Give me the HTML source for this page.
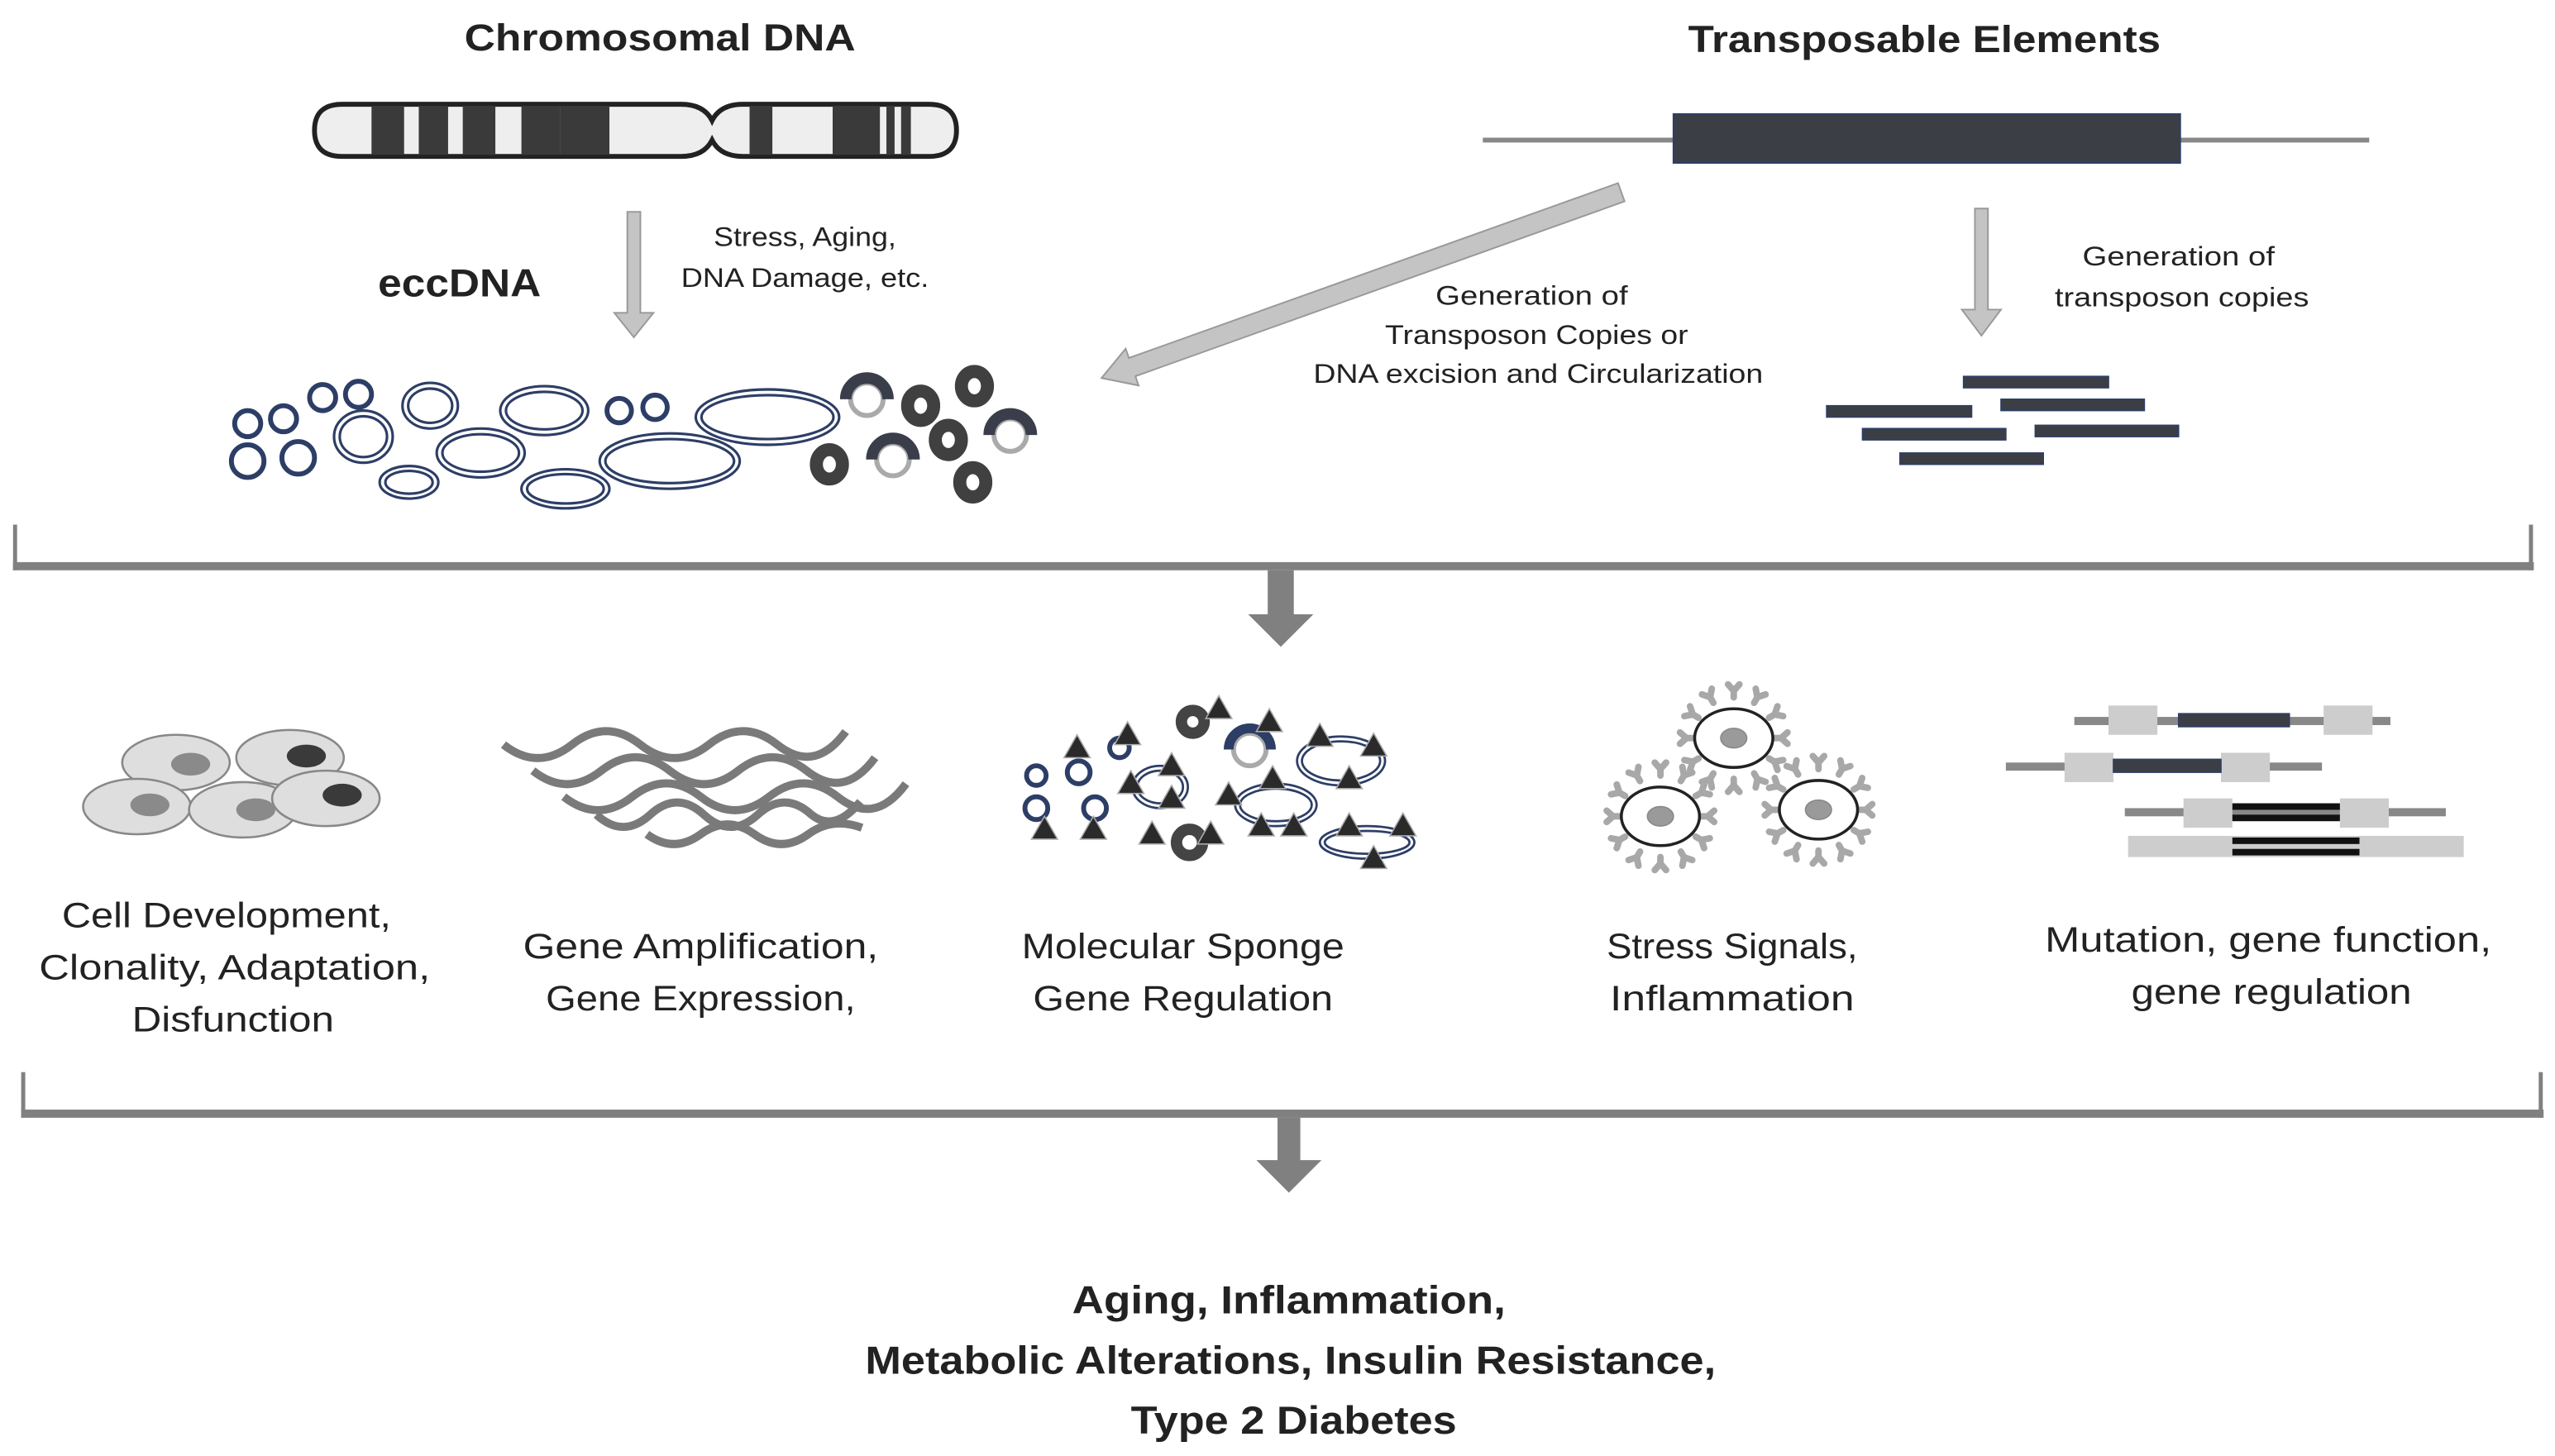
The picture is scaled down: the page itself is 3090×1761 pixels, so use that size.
<!DOCTYPE html>
<html><head><meta charset="utf-8"><style>
html,body{margin:0;padding:0;background:#fff;}
svg{display:block;}
text{font-family:"Liberation Sans",sans-serif;fill:#222;}
.b{font-weight:bold;}
</style></head><body>
<svg width="3090" height="1761" viewBox="0 0 1568 893.6" preserveAspectRatio="none" xmlns="http://www.w3.org/2000/svg">
<defs>
<g id="tri"><polygon points="0,-8 8,6 -8,6" fill="#2a2a2a" stroke="#aaa" stroke-width="0.8"/></g>
<g id="spk"><path d="M0,0 L0,-4 M0,-4 L-3.5,-8 M0,-4 L3.5,-8" stroke="#a8a8a8" stroke-width="4" stroke-linecap="round" fill="none"/></g>
<g id="cell3">
 <g transform="rotate(0) translate(0,-25)"><use href="#spk"/></g>
 <g transform="rotate(30) translate(0,-25)"><use href="#spk"/></g>
 <g transform="rotate(60) translate(0,-25)"><use href="#spk"/></g>
 <g transform="rotate(90) translate(0,-25)"><use href="#spk"/></g>
 <g transform="rotate(120) translate(0,-25)"><use href="#spk"/></g>
 <g transform="rotate(150) translate(0,-25)"><use href="#spk"/></g>
 <g transform="rotate(180) translate(0,-25)"><use href="#spk"/></g>
 <g transform="rotate(210) translate(0,-25)"><use href="#spk"/></g>
 <g transform="rotate(240) translate(0,-25)"><use href="#spk"/></g>
 <g transform="rotate(270) translate(0,-25)"><use href="#spk"/></g>
 <g transform="rotate(300) translate(0,-25)"><use href="#spk"/></g>
 <g transform="rotate(330) translate(0,-25)"><use href="#spk"/></g>
 <ellipse cx="0" cy="0" rx="24" ry="18" fill="#fff" stroke="#222" stroke-width="1.8"/>
 <ellipse cx="0" cy="0" rx="8" ry="6" fill="#9a9a9a" stroke="#888" stroke-width="0.8"/>
</g>
</defs>

<text class="b" x="405" y="31" font-size="23" text-anchor="middle" textLength="240" lengthAdjust="spacingAndGlyphs">Chromosomal DNA</text>
<text class="b" x="1181" y="32" font-size="23" text-anchor="middle" textLength="290" lengthAdjust="spacingAndGlyphs">Transposable Elements</text>

<g stroke="#222" stroke-width="3">
 <path d="M210,64 L418,64 Q432,64 437,74 Q442,64 456,64 L570,64 Q587,64 587,80 Q587,96 570,96 L456,96 Q442,96 437,86 Q432,96 418,96 L210,96 Q193,96 193,80 Q193,64 210,64 Z" fill="#eee"/>
</g>
<g fill="#3a3a3a">
 <rect x="228" y="65" width="20" height="30"/><rect x="257" y="65" width="18" height="30"/><rect x="284" y="65" width="20" height="30"/>
 <rect x="320" y="65" width="24" height="30"/><rect x="344" y="65" width="30" height="30"/>
 <rect x="460" y="65" width="14" height="30"/><rect x="511" y="65" width="29" height="30"/><rect x="544" y="65" width="5" height="30"/><rect x="553" y="65" width="6" height="30"/>
</g>

<polygon points="385,130 393,130 393,192 401,192 389,207 377,192 385,192" fill="#c4c4c4" stroke="#999" stroke-width="1"/>
<text class="b" x="282" y="182" font-size="24" text-anchor="middle" textLength="100" lengthAdjust="spacingAndGlyphs">eccDNA</text>
<text x="494" y="151" font-size="16.5" text-anchor="middle" textLength="112" lengthAdjust="spacingAndGlyphs">Stress, Aging,</text>
<text x="494" y="176" font-size="16.5" text-anchor="middle" textLength="152" lengthAdjust="spacingAndGlyphs">DNA Damage, etc.</text>

<g fill="none" stroke="#2d3e66">
 <g stroke-width="3">
  <circle cx="152" cy="260" r="8"/><circle cx="174" cy="257" r="8"/><circle cx="198" cy="244" r="8"/><circle cx="220" cy="242" r="8"/>
  <circle cx="152" cy="283" r="10"/><circle cx="183" cy="281" r="10"/><circle cx="380" cy="252" r="7.5"/><circle cx="402" cy="250" r="7.5"/>
 </g>
 <g stroke-width="1.6">
  <ellipse cx="223" cy="268" rx="18" ry="16"/><ellipse cx="223" cy="268" rx="14.5" ry="12.5"/>
  <ellipse cx="264" cy="249" rx="17" ry="14"/><ellipse cx="264" cy="249" rx="13.5" ry="10.5"/>
  <ellipse cx="251" cy="296" rx="18" ry="10"/><ellipse cx="251" cy="296" rx="14.5" ry="7"/>
  <ellipse cx="295" cy="278" rx="27" ry="15"/><ellipse cx="295" cy="278" rx="23.5" ry="11.5"/>
  <ellipse cx="334" cy="252" rx="27" ry="15"/><ellipse cx="334" cy="252" rx="23.5" ry="11.5"/>
  <ellipse cx="347" cy="300" rx="27" ry="12"/><ellipse cx="347" cy="300" rx="23.5" ry="9"/>
  <ellipse cx="411" cy="283" rx="43" ry="17"/><ellipse cx="411" cy="283" rx="39.5" ry="13.5"/>
  <ellipse cx="471" cy="256" rx="44" ry="17"/><ellipse cx="471" cy="256" rx="40.5" ry="13.5"/>
 </g>
</g>
<g fill="none" stroke="#404040" stroke-width="8">
 <ellipse cx="565" cy="249" rx="8" ry="9"/><ellipse cx="598" cy="237" rx="8" ry="9"/><ellipse cx="582" cy="270" rx="8" ry="9"/>
 <ellipse cx="509" cy="285" rx="8" ry="9"/><ellipse cx="597" cy="296" rx="8" ry="9"/>
</g>
<g fill="none">
 <circle cx="532" cy="245" r="10" stroke="#aaa" stroke-width="3"/><path d="M519,245 A13,13 0 0 1 545,245" stroke="#3a3e4a" stroke-width="7"/>
 <circle cx="548" cy="282" r="10" stroke="#aaa" stroke-width="3"/><path d="M535,282 A13,13 0 0 1 561,282" stroke="#3a3e4a" stroke-width="7"/>
 <circle cx="620" cy="267" r="10" stroke="#aaa" stroke-width="3"/><path d="M607,267 A13,13 0 0 1 633,267" stroke="#3a3e4a" stroke-width="7"/>
</g>

<line x1="910" y1="86" x2="1454" y2="86" stroke="#888" stroke-width="3"/>
<rect x="1027" y="70" width="311" height="30" fill="#3c3e45" stroke="#2d3e66" stroke-width="1"/>
<polygon points="997,123.6 993,112.4 692.8,219.7 690.8,214 676,232 698.8,236.6 696.8,230.9" fill="#c4c4c4" stroke="#999" stroke-width="1"/>
<text x="940" y="187" font-size="16.5" text-anchor="middle" textLength="118" lengthAdjust="spacingAndGlyphs">Generation of</text>
<text x="943" y="211" font-size="16.5" text-anchor="middle" textLength="186" lengthAdjust="spacingAndGlyphs">Transposon Copies or</text>
<text x="944" y="235" font-size="16.5" text-anchor="middle" textLength="276" lengthAdjust="spacingAndGlyphs">DNA excision and Circularization</text>
<polygon points="1212,128 1220,128 1220,190 1228,190 1216,206 1204,190 1212,190" fill="#c4c4c4" stroke="#999" stroke-width="1"/>
<text x="1337" y="163" font-size="16.5" text-anchor="middle" textLength="118" lengthAdjust="spacingAndGlyphs">Generation of</text>
<text x="1339" y="188" font-size="16.5" text-anchor="middle" textLength="156" lengthAdjust="spacingAndGlyphs">transposon copies</text>
<g fill="#3c3e45" stroke="#2d3e66" stroke-width="0.8">
 <rect x="1205" y="231" width="89" height="7"/><rect x="1228" y="245" width="88" height="7"/><rect x="1121" y="249" width="89" height="7"/>
 <rect x="1143" y="263" width="88" height="7"/><rect x="1249" y="261" width="88" height="7"/><rect x="1166" y="278" width="88" height="7"/>
</g>

<g fill="#808080">
 <rect x="8" y="345" width="1547" height="5"/><rect x="8" y="322" width="2.5" height="28"/><rect x="1552" y="322" width="2.5" height="28"/>
 <rect x="778" y="350" width="16" height="28"/><polygon points="766,377 806,377 786,397"/>
</g>

<g stroke="#888" stroke-width="1.3" fill="#dedede">
 <ellipse cx="108" cy="468" rx="33" ry="17"/><ellipse cx="178" cy="465" rx="33" ry="17"/>
 <ellipse cx="84" cy="495" rx="33" ry="17"/><ellipse cx="149" cy="497" rx="33" ry="17"/><ellipse cx="200" cy="490" rx="33" ry="17"/>
</g>
<g stroke="none">
 <ellipse cx="117" cy="469" rx="12" ry="7" fill="#8a8a8a"/><ellipse cx="188" cy="464" rx="12" ry="7" fill="#3a3a3a"/>
 <ellipse cx="92" cy="494" rx="12" ry="7" fill="#8a8a8a"/><ellipse cx="157" cy="497" rx="12" ry="7" fill="#8a8a8a"/><ellipse cx="210" cy="488" rx="12" ry="7" fill="#3a3a3a"/>
</g>

<g fill="none" stroke="#7a7a7a" stroke-width="5">
 <path d="M309,457 c14,11 28,11 42,0 c14,-11 28,-11 42,0 c14,11 28,11 42,0 c14,-11 28,-11 42,0 c14,11 28,11 42,-8"/>
 <path d="M327,473 c14,11 28,11 42,0 c14,-11 28,-11 42,0 c14,11 28,11 42,0 c14,-11 28,-11 42,0 c14,11 28,11 42,-8"/>
 <path d="M346,489 c14,11 28,11 42,0 c14,-11 28,-11 42,0 c14,11 28,11 42,0 c14,-11 28,-11 42,0 c14,11 28,11 42,-8"/>
 <path d="M366,500 c11,10 22,10 33,0 c11,-10 22,-10 33,0 c11,10 22,10 33,0 c11,-10 22,-10 33,0 c10,8 20,4 30,-8"/>
 <path d="M397,512 c11,8 22,8 33,0 c11,-8 22,-8 33,0 c11,8 22,8 33,0 c11,-8 22,-8 33,-4"/>
</g>

<g fill="none" stroke="#2d3e66">
 <g stroke-width="3">
  <circle cx="636" cy="476" r="6"/><circle cx="662" cy="474" r="7"/><circle cx="636" cy="496" r="7"/><circle cx="672" cy="496" r="7"/><circle cx="687" cy="459" r="6"/>
 </g>
 <g stroke-width="1.4">
  <ellipse cx="712" cy="483" rx="17" ry="13"/><ellipse cx="712" cy="483" rx="14" ry="10"/>
  <ellipse cx="783" cy="494" rx="25" ry="13"/><ellipse cx="783" cy="494" rx="22" ry="10"/>
  <ellipse cx="823" cy="467" rx="27" ry="15"/><ellipse cx="823" cy="467" rx="24" ry="12"/>
  <ellipse cx="839" cy="517" rx="29" ry="10"/><ellipse cx="839" cy="517" rx="26" ry="7"/>
 </g>
</g>
<g fill="none">
 <circle cx="732" cy="443" r="7" stroke="#444" stroke-width="7"/><circle cx="730" cy="517" r="8" stroke="#444" stroke-width="7"/>
 <circle cx="767" cy="460" r="10" stroke="#aaa" stroke-width="3"/><path d="M754,460 A13,13 0 0 1 780,460" stroke="#2d3e66" stroke-width="6"/>
</g>
<g>
 <use href="#tri" x="661" y="459"/><use href="#tri" x="692" y="451"/><use href="#tri" x="641" y="509"/><use href="#tri" x="671" y="509"/>
 <use href="#tri" x="719" y="470"/><use href="#tri" x="694" y="481"/><use href="#tri" x="719" y="490"/><use href="#tri" x="707" y="512"/>
 <use href="#tri" x="743" y="512"/><use href="#tri" x="748" y="435"/><use href="#tri" x="779" y="443"/><use href="#tri" x="754" y="488"/>
 <use href="#tri" x="781" y="478"/><use href="#tri" x="774" y="507"/><use href="#tri" x="794" y="507"/><use href="#tri" x="810" y="452"/>
 <use href="#tri" x="843" y="458"/><use href="#tri" x="828" y="478"/><use href="#tri" x="828" y="507"/><use href="#tri" x="861" y="507"/><use href="#tri" x="843" y="527"/>
</g>

<use href="#cell3" x="1064" y="453"/>
<use href="#cell3" x="1019" y="501"/>
<use href="#cell3" x="1116" y="497"/>

<g>
 <rect x="1273" y="440" width="194" height="5" fill="#888"/>
 <rect x="1294" y="433" width="30" height="18" fill="#cdcdcd"/><rect x="1426" y="433" width="30" height="18" fill="#cdcdcd"/>
 <rect x="1337" y="438" width="68" height="8" fill="#3c3e45" stroke="#2d3e66" stroke-width="0.8"/>
 <rect x="1231" y="468" width="194" height="5" fill="#888"/>
 <rect x="1267" y="462" width="30" height="18" fill="#cdcdcd"/><rect x="1363" y="462" width="30" height="18" fill="#cdcdcd"/>
 <rect x="1297" y="466" width="66" height="8" fill="#3c3e45" stroke="#2d3e66" stroke-width="0.8"/>
 <rect x="1304" y="496" width="197" height="5" fill="#888"/>
 <rect x="1340" y="490" width="30" height="18" fill="#cdcdcd"/><rect x="1436" y="490" width="30" height="18" fill="#cdcdcd"/>
 <rect x="1370" y="493" width="66" height="4" fill="#111"/><rect x="1370" y="500" width="66" height="4" fill="#111"/>
 <rect x="1306" y="513" width="206" height="13" fill="#cdcdcd"/>
 <rect x="1370" y="514" width="78" height="4" fill="#111"/><rect x="1370" y="521" width="78" height="4" fill="#111"/>
</g>

<g font-size="21.5" text-anchor="middle">
 <text x="139" y="569" textLength="202" lengthAdjust="spacingAndGlyphs">Cell Development,</text>
 <text x="144" y="601" textLength="240" lengthAdjust="spacingAndGlyphs">Clonality, Adaptation,</text>
 <text x="143" y="633" textLength="124" lengthAdjust="spacingAndGlyphs">Disfunction</text>
 <text x="430" y="588" textLength="218" lengthAdjust="spacingAndGlyphs">Gene Amplification,</text>
 <text x="430" y="620" textLength="190" lengthAdjust="spacingAndGlyphs">Gene Expression,</text>
 <text x="726" y="588" textLength="198" lengthAdjust="spacingAndGlyphs">Molecular Sponge</text>
 <text x="726" y="620" textLength="184" lengthAdjust="spacingAndGlyphs">Gene Regulation</text>
 <text x="1063" y="588" textLength="154" lengthAdjust="spacingAndGlyphs">Stress Signals,</text>
 <text x="1063" y="620" textLength="150" lengthAdjust="spacingAndGlyphs">Inflammation</text>
 <text x="1392" y="584" textLength="274" lengthAdjust="spacingAndGlyphs">Mutation, gene function,</text>
 <text x="1394" y="616" textLength="172" lengthAdjust="spacingAndGlyphs">gene regulation</text>
</g>

<g fill="#808080">
 <rect x="13" y="681" width="1548" height="5"/><rect x="13" y="658" width="2.5" height="28"/><rect x="1558" y="658" width="2.5" height="28"/>
 <rect x="784" y="686" width="14" height="27"/><polygon points="771,712 811,712 791,732"/>
</g>

<g class="b" font-size="24" text-anchor="middle" font-weight="bold">
 <text x="791" y="806" textLength="266" lengthAdjust="spacingAndGlyphs">Aging, Inflammation,</text>
 <text x="792" y="843" textLength="522" lengthAdjust="spacingAndGlyphs">Metabolic Alterations, Insulin Resistance,</text>
 <text x="794" y="880" textLength="200" lengthAdjust="spacingAndGlyphs">Type 2 Diabetes</text>
</g>
</svg>
</body></html>
